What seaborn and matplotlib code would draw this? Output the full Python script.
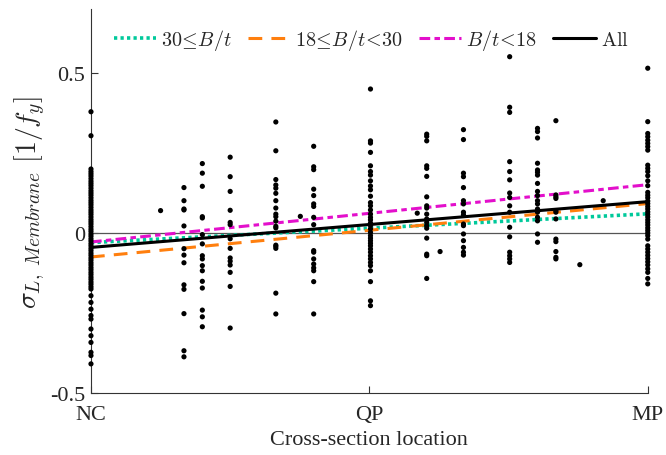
import numpy as np
import pandas as pd
import matplotlib
matplotlib.use("Agg")
import matplotlib.pyplot as plt
import seaborn as sns

# ---------------- data ----------------
tick_pos = [0.0, 0.5, 1.0]
tick_labels = ["NC", "QP", "MP"]

# scatter columns: (x position, list of values)
x_nc = 0.0
v_nc = [0.379, 0.304, 0.200, 0.192, 0.185, 0.178, 0.170, 0.162, 0.155, 0.148, 0.140,
        0.132, 0.125, 0.118, 0.110, 0.102, 0.095, 0.088, 0.080, 0.072, 0.065, 0.058,
        0.050, 0.042, 0.035, 0.028, 0.020, 0.012, 0.005, -0.003, -0.010, -0.018,
        -0.025, -0.033, -0.040, -0.048, -0.055, -0.063, -0.070, -0.078, -0.085,
        -0.093, -0.100, -0.108, -0.115, -0.123, -0.130, -0.138, -0.145, -0.153,
        -0.160, -0.168, -0.175, -0.196, -0.217, -0.238, -0.258, -0.269, -0.300,
        -0.321, -0.342, -0.373, -0.383, -0.409]
x_a = 0.125
v_a = [0.070]
x_b = 0.167
v_b = [0.142, 0.101, 0.075, 0.072, 0.022, -0.049, -0.069, -0.093, -0.162, -0.176,
       -0.252, -0.368, -0.387]
x_c = 0.200
v_c = [0.217, 0.187, 0.146, 0.051, 0.047, -0.005, -0.034, -0.071, -0.081, -0.102,
       -0.118, -0.151, -0.172, -0.241, -0.262, -0.293]
x_d = 0.250
v_d = [0.237, 0.176, 0.130, 0.071, 0.033, 0.026, -0.018, -0.048, -0.078, -0.088,
       -0.100, -0.123, -0.167, -0.297]
x_e = 0.332
v_e = [0.347, 0.257, 0.167, 0.150, 0.140, 0.124, 0.101, 0.078, 0.059, 0.051, 0.037,
       0.021, 0.016, -0.038, -0.042, -0.048, -0.188, -0.253]
x_f = 0.376
v_f = [0.052]
x_g = 0.400
v_g = [0.271, 0.207, 0.198, 0.137, 0.117, 0.091, 0.083, 0.049, 0.026, -0.055, -0.060,
       -0.081, -0.097, -0.109, -0.118, -0.152, -0.253]
x_qp = 0.502
v_qp = [0.450, 0.288, 0.281, 0.252, 0.210, 0.192, 0.181, 0.163, 0.147, 0.135, 0.115,
        0.095, 0.085, 0.072, 0.059, 0.049, 0.041, 0.031, 0.023, 0.013, 0.002, -0.008,
        -0.016, -0.024, -0.032, -0.040, -0.050, -0.060, -0.071, -0.081, -0.092,
        -0.102, -0.118, -0.152, -0.212, -0.227]
x_h = 0.586
v_h = [0.062]
x_i = 0.603
v_i = [0.309, 0.302, 0.288, 0.210, 0.202, 0.177, 0.113, 0.085, 0.078, 0.059, 0.044,
       0.033, 0.023, 0.015, -0.016, -0.066, -0.071, -0.142]
x_j = 0.627
v_j = [-0.058]
x_k = 0.669
v_k = [0.323, 0.292, 0.187, 0.176, 0.142, 0.101, 0.091, 0.065, 0.057, 0.028, 0.023,
       -0.003, -0.024, -0.045, -0.060, -0.069]
x_l = 0.752
v_l = [0.551, 0.393, 0.377, 0.223, 0.192, 0.166, 0.125, 0.111, 0.085, 0.065, 0.018,
       -0.012, -0.060, -0.071, -0.081, -0.092]
x_m = 0.802
v_m = [0.327, 0.317, 0.297, 0.218, 0.197, 0.190, 0.181, 0.155, 0.130, 0.117, 0.101,
       0.091, 0.075, 0.065, 0.049, 0.038, -0.003, -0.029]
x_n = 0.835
v_n = [0.351, 0.119, 0.113, 0.108, 0.070, 0.065, 0.044, -0.019, -0.027, -0.058,
       -0.076, -0.081]
x_o = 0.878
v_o = [-0.099]
x_p = 0.920
v_p = [0.101]
x_mp = 1.0
v_mp = [0.515, 0.348, 0.311, 0.301, 0.290, 0.280, 0.270, 0.259, 0.212, 0.202, 0.192,
        0.179, 0.163, 0.148, 0.127, 0.118, 0.110, 0.100, 0.092, 0.083, 0.075, 0.066,
        0.058, 0.050, 0.041, 0.033, 0.025, 0.016, 0.008, 0.000, -0.008, -0.019,
        -0.040, -0.050, -0.060, -0.070, -0.080, -0.090, -0.100, -0.112, -0.123,
        -0.142, -0.159]

# regression lines (values at NC and MP)
line_x = [0.0, 1.0]
fit_30 = [-0.030, 0.060]
fit_18_30 = [-0.075, 0.092]
fit_18 = [-0.028, 0.151]
fit_all = [-0.045, 0.098]

# ---------------- build frames ----------------
cols = [(x_nc, v_nc), (x_a, v_a), (x_b, v_b), (x_c, v_c), (x_d, v_d), (x_e, v_e),
        (x_f, v_f), (x_g, v_g), (x_qp, v_qp), (x_h, v_h), (x_i, v_i), (x_j, v_j),
        (x_k, v_k), (x_l, v_l), (x_m, v_m), (x_n, v_n), (x_o, v_o), (x_p, v_p),
        (x_mp, v_mp)]
pts = pd.DataFrame({
    "x": np.concatenate([[xx] * len(vv) for xx, vv in cols]),
    "y": np.concatenate([vv for _, vv in cols]),
})

lines = pd.DataFrame({
    "x": line_x * 4,
    "y": fit_30 + fit_18_30 + fit_18 + fit_all,
    "grp": ["a"] * 2 + ["b"] * 2 + ["c"] * 2 + ["d"] * 2,
})

# ---------------- style ----------------
sns.set_theme(style="ticks")
plt.rcParams["font.family"] = ["Liberation Serif", "DejaVu Serif"]
plt.rcParams["mathtext.fontset"] = "cm"
plt.rcParams["xtick.direction"] = "in"
plt.rcParams["ytick.direction"] = "in"

fig = plt.figure(figsize=(6.66, 4.56), dpi=100)
ax = fig.add_axes([0.1366, 0.136, 0.836, 0.842])

ax.axhline(0, color="#555555", lw=0.9, zorder=1)

sns.scatterplot(data=pts, x="x", y="y", ax=ax, color="black", s=14,
                edgecolor="none", zorder=5, legend=False, clip_on=False)

colors = {"a": "#00C99B", "b": "#FF7F0E", "c": "#E30FCB", "d": "black"}
styles = {"a": (0, (0.9, 0.9)), "b": (0, (4.5, 3.0)), "c": (0, (3.5, 1.4, 1.8, 1.4)),
          "d": "-"}
widths = {"a": 2.6, "b": 2.2, "c": 2.2, "d": 2.2}
labels = {"a": r"$30\!\leq\! B/t$", "b": r"$18\!\leq\! B/t\!<\!30$",
          "c": r"$B/t\!<\!18$", "d": r"$\mathrm{All}$"}
for g in ["a", "b", "c", "d"]:
    sub = lines[lines["grp"] == g]
    sns.lineplot(data=sub, x="x", y="y", ax=ax, color=colors[g], lw=widths[g],
                 linestyle=styles[g], label=labels[g], zorder=4)

ax.set_xlim(0, 1)
ax.set_ylim(-0.5, 0.70)
ax.set_xticks(tick_pos)
ax.set_xticklabels(tick_labels)
ax.set_yticks([-0.5, 0, 0.5])
ax.set_yticklabels(["-0.5", "0", "0.5"])
ax.tick_params(axis="both", labelsize=16, length=5, width=0.8, color="#333333")
ax.tick_params(axis="x", pad=9)
ax.tick_params(axis="y", pad=4)
for s in ["top", "right"]:
    ax.spines[s].set_visible(False)
for s in ["left", "bottom"]:
    ax.spines[s].set_linewidth(0.8)
    ax.spines[s].set_color("#333333")

ax.set_xlabel("Cross-section location", fontsize=16, labelpad=4)
ax.set_ylabel(r"$\sigma_{L,\ Membrane}\ [1/f_y]$", fontsize=20, labelpad=2)

ax.legend(loc="center", bbox_to_anchor=(0.503, 0.92), ncol=4, frameon=False,
          fontsize=14.5, handlelength=2.1, handletextpad=0.25, columnspacing=0.8,
          borderaxespad=0)

fig.savefig("out.png", dpi=100)
